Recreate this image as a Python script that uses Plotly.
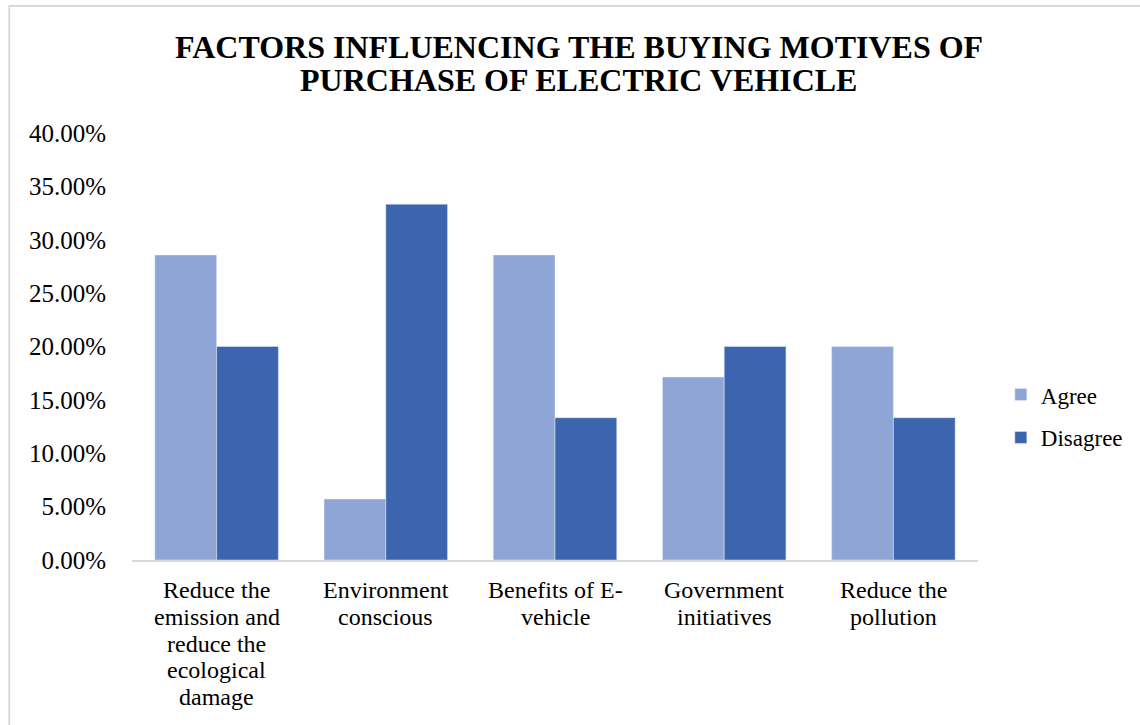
import plotly.graph_objects as go

categories = ["Reduce the emission and reduce the ecological damage",
              "Environment conscious",
              "Benefits of E-vehicle",
              "Government initiatives",
              "Reduce the pollution"]
category_label_lines = [["Reduce the", "emission and", "reduce the", "ecological", "damage"],
                        ["Environment", "conscious"],
                        ["Benefits of E-", "vehicle"],
                        ["Government", "initiatives"],
                        ["Reduce the", "pollution"]]
agree = [0.2857, 0.0571, 0.2857, 0.1714, 0.2000]
disagree = [0.2000, 0.3333, 0.1333, 0.2000, 0.1333]
yticks = [0, 0.05, 0.10, 0.15, 0.20, 0.25, 0.30, 0.35, 0.40]
title_lines = ["FACTORS INFLUENCING THE BUYING MOTIVES OF", "PURCHASE OF ELECTRIC VEHICLE"]

font = "Liberation Serif"
PLOT_H = 427  # plot area height in px (725 - 133 - 165)

fig = go.Figure()
fig.add_trace(go.Bar(name="Agree", x=categories, y=agree, marker_color="#8FA5D6", legendgroup="a"))
fig.add_trace(go.Bar(name="Disagree", x=categories, y=disagree, marker_color="#3D64AE", legendgroup="d"))

fig.update_layout(
    width=1140, height=725,
    barmode="group", bargap=0.27, bargroupgap=0,
    paper_bgcolor="white", plot_bgcolor="white",
    margin=dict(l=132, r=160, t=133, b=165),
    font=dict(family=font, size=24, color="#000000"),
    legend=dict(x=1.027, y=0.337, xanchor="left", yanchor="middle",
                font=dict(family=font, size=23), itemwidth=30,
                traceorder="grouped", tracegroupgap=10),
    showlegend=True,
)
fig.update_yaxes(range=[0, 0.40], tickvals=yticks, tickformat=".2%", showgrid=False,
                 zeroline=False, showline=False, ticks="", ticklabelstandoff=25,
                 tickfont=dict(family=font, size=25))
fig.update_xaxes(showline=True, linecolor="#D9D9D9", linewidth=1.5, ticks="",
                 showticklabels=False)

# category labels, one text per line for Office-like tight line spacing
for cat, lines in zip(categories, category_label_lines):
    for i, line in enumerate(lines):
        fig.add_annotation(x=cat, y=0, xref="x", yref="paper", text=line, showarrow=False,
                           xanchor="center", yanchor="middle", yshift=-(30 + 26.8 * i),
                           font=dict(family=font, size=24, color="#000000"))

# title, one text per line
for i, line in enumerate(title_lines):
    fig.add_annotation(x=0.528, y=(560 - (47 + 33 * i)) / PLOT_H, xref="paper", yref="paper",
                       text="<b>" + line + "</b>", showarrow=False, xanchor="center", yanchor="middle",
                       font=dict(family=font, size=32, color="#000000"))

fig.add_shape(type="rect", xref="paper", yref="paper",
              x0=-123/848, x1=1.3, y0=-0.5, y1=(560 - 6) / PLOT_H,
              line=dict(color="#D9D9D9", width=2), fillcolor="rgba(0,0,0,0)", layer="below")

fig.write_html("out.html")
